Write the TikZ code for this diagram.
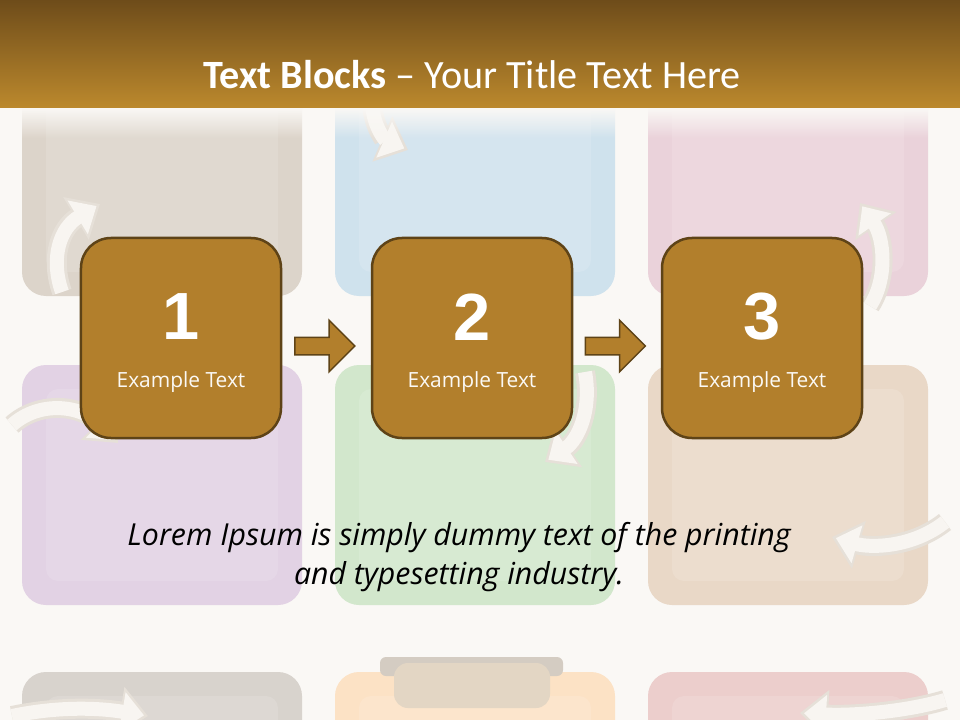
\documentclass[tikz,border=0pt]{standalone}
\usepackage{fontspec}
\setmainfont{Carlito}
\newfontfamily\labelfont{Open Sans}
\newfontfamily\numfont{Liberation Sans}
\usetikzlibrary{shapes.arrows,fadings,arrows.meta,calc}
\definecolor{bg}{HTML}{FAF8F5}
\definecolor{barTop}{HTML}{6E4C1A}
\definecolor{barBot}{HTML}{BC892D}
\definecolor{blkfill}{HTML}{B27F2C}
\definecolor{blkdraw}{HTML}{5E4317}
\definecolor{tA}{HTML}{DCD4CA}
\definecolor{tB}{HTML}{CFE2ED}
\definecolor{tC}{HTML}{EAD2DA}
\definecolor{tD}{HTML}{E2D2E4}
\definecolor{tE}{HTML}{D2E7CC}
\definecolor{tF}{HTML}{E9D8C7}
\definecolor{tG}{HTML}{D8D3CD}
\definecolor{tH}{HTML}{FCE2C5}
\definecolor{tI}{HTML}{ECCECC}
\definecolor{ghostout}{HTML}{E6E0D8}
\definecolor{ghostin}{HTML}{F8F5F1}
\definecolor{tabtop}{HTML}{D4CCC2}
\definecolor{tabfill}{HTML}{E3D6C4}
\tikzfading[name=fadedown, top color=transparent!0, bottom color=transparent!100]
\tikzset{
  tile/.style={fill=#1, rounded corners=24bp},
  tileinner/.style={fill=#1!88!white, rounded corners=12bp},
  ghostA/.style={line width=20bp, draw=ghostout, -{Triangle[width=48bp,length=28bp]}},
  ghostB/.style={line width=14bp, draw=ghostin, shorten >=4bp, -{Triangle[width=38bp,length=22bp]}},
  blk/.style={rounded corners=30bp, fill=blkfill, draw=blkdraw, line width=2.5bp,
    minimum width=200bp, minimum height=200bp, inner sep=0pt},
  num/.style={text=white, font=\numfont\fontsize{67}{67}\selectfont\bfseries, inner sep=0pt},
  lbl/.style={text=white!95!blkfill, font=\labelfont\fontsize{21}{21}\selectfont, inner sep=0pt},
  sarrow/.style={single arrow, fill=blkfill, draw=blkdraw, line width=1.5bp,
    minimum height=60bp, minimum width=50bp, single arrow head extend=17bp,
    inner xsep=0pt, inner ysep=8bp},
}
\begin{document}
\begin{tikzpicture}[x=1bp,y=-1bp]
\useasboundingbox (0,0) rectangle (960,720);
\begin{scope}
\clip (0,0) rectangle (960,720);
\fill[bg] (0,0) rectangle (960,720);
% background tiles
\foreach \xx/\yy/\cc in {22/56/tA,335/56/tB,648/56/tC,22/365/tD,335/365/tE,648/365/tF,22/672/tG,335/672/tH,648/672/tI}{
  \fill[tile=\cc] (\xx,\yy) rectangle ++(280,240);
  \fill[tileinner=\cc] ($(\xx,\yy)+(24,24)$) rectangle ++(232,192);
}
% clip tab
\fill[tabtop, rounded corners=6bp] (380,657) rectangle (563,676);
\fill[tabfill, rounded corners=14bp] (394,663) rectangle (550,708);
% ghost arrows
\draw[ghostA] (62,292) .. controls (50,258) and (60,228) .. (100,204);
\draw[ghostB] (62,292) .. controls (50,258) and (60,228) .. (100,204);
\draw[ghostA] (870,306) .. controls (888,278) and (884,238) .. (860,203);
\draw[ghostB] (870,306) .. controls (888,278) and (884,238) .. (860,203);
\draw[ghostA] (372,100) .. controls (372,125) and (385,140) .. (408,150);
\draw[ghostB] (372,100) .. controls (372,125) and (385,140) .. (408,150);
\draw[ghostA] (12,425) .. controls (40,400) and (82,405) .. (118,443);
\draw[ghostB] (12,425) .. controls (40,400) and (82,405) .. (118,443);
\draw[ghostA] (585,372) .. controls (592,410) and (578,440) .. (545,462);
\draw[ghostB] (585,372) .. controls (592,410) and (578,440) .. (545,462);
\draw[ghostA] (945,522) .. controls (912,548) and (870,548) .. (832,537);
\draw[ghostB] (945,522) .. controls (912,548) and (870,548) .. (832,537);
\draw[ghostA] (12,716) .. controls (60,706) and (100,708) .. (148,716);
\draw[ghostB] (12,716) .. controls (60,706) and (100,708) .. (148,716);
\draw[ghostA] (945,700) .. controls (905,712) and (850,716) .. (800,713);
\draw[ghostB] (945,700) .. controls (905,712) and (850,716) .. (800,713);
% title bar
\shade[top color=barTop, bottom color=barBot] (0,0) rectangle (960,108);
\fill[bg, path fading=fadedown] (0,108) rectangle (960,138);
\end{scope}
\node[text=white, font=\fontsize{40.3}{40.3}\selectfont, inner sep=0pt] (title) at (472,75)
  {\textbf{Text Blocks} – Your Title Text Here};
% main blocks
\node[blk] (b1) at (181,338) {};
\node[blk] (b2) at (472,338) {};
\node[blk] (b3) at (762,338) {};
\node[num] (n1) at ($(b1.center)+(0,-21)$) {1};
\node[num] (n2) at ($(b2.center)+(0,-21)$) {2};
\node[num] (n3) at ($(b3.center)+(0,-21)$) {3};
\node[lbl] (l1) at ($(b1.center)+(0,44)$) {Example Text};
\node[lbl] (l2) at ($(b2.center)+(0,44)$) {Example Text};
\node[lbl] (l3) at ($(b3.center)+(0,44)$) {Example Text};
\node[sarrow] (a1) at ($($(b1.east)!0.5!(b2.west)$)+(-6,8)$) {};
\node[sarrow] (a2) at ($($(b2.east)!0.5!(b3.west)$)+(-6,8)$) {};
% body text
\node[align=center, font=\labelfont\fontsize{30.4}{40}\selectfont\itshape, inner sep=0pt] (lorem) at (459,557)
  {Lorem Ipsum is simply dummy text of the printing\\and typesetting industry.};
\end{tikzpicture}
\end{document}
